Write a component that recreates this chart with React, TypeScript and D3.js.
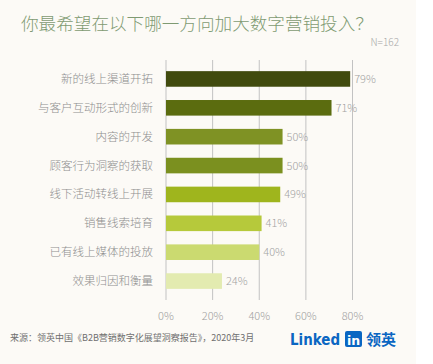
import React from 'react';
import * as d3 from 'd3';

const categories = [
  '新的线上渠道开拓',
  '与客户互动形式的创新',
  '内容的开发',
  '顾客行为洞察的获取',
  '线下活动转线上开展',
  '销售线索培育',
  '已有线上媒体的投放',
  '效果归因和衡量',
];
const values = [79, 71, 50, 50, 49, 41, 40, 24];
const barColors = ['#414b0e', '#5b6c0f', '#7f9224', '#7b901f', '#9fb51d', '#b6c93b', '#cbda70', '#e3ebb0'];
const ticks = [0, 20, 40, 60, 80];

const W = 433;
const H = 364;
const font = '"Noto Sans CJK SC", "Noto Sans", sans-serif';

const App: React.FC = () => {
  const x = d3.scaleLinear().domain([0, 80]).range([166, 352.5]);
  const y = d3.scaleBand<string>().domain(categories).range([64.5, 295.5]).paddingInner(0.46).paddingOuter(0.23);

  return (
    <svg width={W} height={H} style={{ position: 'absolute', left: 0, top: 0 }} fontFamily={font}>
      <rect x={0} y={0} width={W} height={H} fill="#ffffff" />
      <rect x={0} y={0} width={416} height={H} fill="#fcfaf6" />

      <text x={21} y={30} fontSize={17.6} fontWeight={300} fill="#7f9a72">你最希望在以下哪一方向加大数字营销投入？</text>
      <text x={399} y={46} fontSize={10} fontWeight={300} fill="#a8a8a8" textAnchor="end">N=162</text>

      {/* grid */}
      {ticks.map(t => (
        <g key={t}>
          <line x1={x(t)} x2={x(t)} y1={60} y2={300} stroke="#c2c2c2" strokeWidth={1} />
          <text x={x(t)} y={320} fontSize={11} fontWeight={300} fill="#a0a0a0" textAnchor="middle">{t}%</text>
        </g>
      ))}

      {/* bars */}
      {categories.map((c, i) => (
        <g key={c}>
          <rect x={x(0)} y={y(c)} width={x(values[i]) - x(0)} height={y.bandwidth()} fill={barColors[i]} />
          <text x={153} y={(y(c) ?? 0) + y.bandwidth() / 2 + 4} fontSize={11.5} fontWeight={300} fill="#8e8e8e" textAnchor="end">{c}</text>
          <text x={x(values[i]) + 4} y={(y(c) ?? 0) + y.bandwidth() / 2 + 4} fontSize={11} fontWeight={300} fill="#a3a3a3">{values[i]}%</text>
        </g>
      ))}

      {/* footer */}
      <text x={10} y={341} fontSize={9} fill="#707070">来源：领英中国《B2B营销数字化展望洞察报告》，2020年3月</text>
      <g>
        <text x={290} y={345} fontSize={15} fontWeight="bold" fill="#0a66c2" fontFamily="'DejaVu Sans', sans-serif" textLength={50} lengthAdjust="spacingAndGlyphs">Linked</text>
        <rect x={345} y={331} width={17} height={16} rx={2} fill="#0a66c2" />
        <text x={353.5} y={344.5} fontSize={12.5} fontWeight="bold" fill="#ffffff" textAnchor="middle" fontFamily="'DejaVu Sans', sans-serif">in</text>
        <text x={366} y={345} fontSize={15} fontWeight="bold" fill="#0a66c2">领英</text>
      </g>
    </svg>
  );
};

export default App;
